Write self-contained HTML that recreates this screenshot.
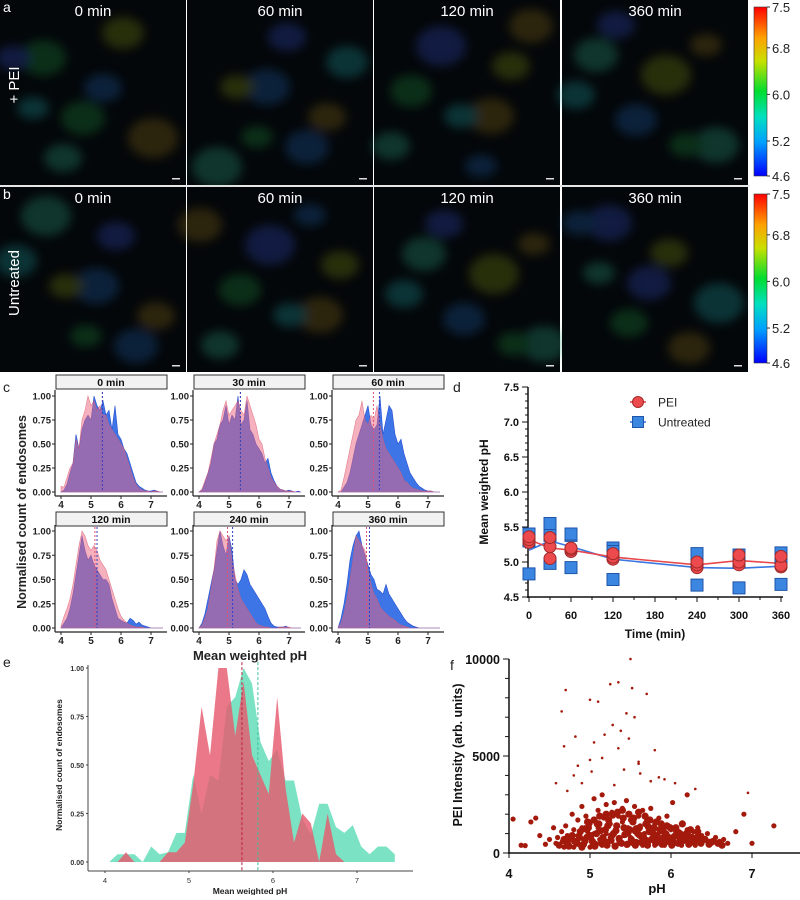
<!DOCTYPE html>
<html><head><meta charset="utf-8"><style>
html,body{margin:0;padding:0;background:#fff;}
body{width:800px;height:895px;overflow:hidden;font-family:"Liberation Sans",Arial,sans-serif;}
svg text{font-family:"Liberation Sans",Arial,sans-serif;}
</style></head><body>
<svg id="fig" width="800" height="895" viewBox="0 0 800 895" xmlns="http://www.w3.org/2000/svg">
<defs>
<filter id="blur" x="-50%" y="-50%" width="200%" height="200%"><feGaussianBlur stdDeviation="5"/></filter>
<clipPath id="clipTop"><rect x="0" y="0" width="750" height="372"/></clipPath>
<linearGradient id="cbar" x1="0" y1="1" x2="0" y2="0">
<stop offset="0" stop-color="#0000ff"/><stop offset="0.2" stop-color="#00a0ff"/><stop offset="0.35" stop-color="#00e0c0"/><stop offset="0.5" stop-color="#00dd30"/><stop offset="0.68" stop-color="#c8e000"/><stop offset="0.82" stop-color="#ffa000"/><stop offset="1" stop-color="#ff0000"/>
</linearGradient>
</defs>
<g id="micro"></g>
<g id="panelC"></g>
<g id="panelD"></g>
<g id="panelE"></g>
<g id="panelF"></g>
</svg>
<script>
// ---------- data ----------
const timeLabels = ["0 min","60 min","120 min","360 min"];
const rowLabels = ["+ PEI","Untreated"];
const cbarTicks = [7.5,6.8,6.0,5.2,4.6];

const facetTitles = ["0 min","30 min","60 min","120 min","240 min","360 min"];
const phGrid = [4.0,4.1,4.2,4.3,4.4,4.5,4.6,4.7,4.8,4.9,5.0,5.1,5.2,5.3,5.4,5.5,5.6,5.7,5.8,5.9,6.0,6.1,6.2,6.3,6.4,6.5,6.6,6.7,6.8,6.9,7.0,7.1,7.2,7.3,7.4];
const peiHist = [
 [.06,.05,.15,.25,.3,.55,.45,.75,.85,1.0,.9,.95,.85,.9,.8,.8,.7,.65,.6,.55,.5,.45,.35,.25,.15,.08,.04,.02,.01,.01,0,.01,.01,0,0],
 [0,.03,.12,.2,.35,.5,.6,.7,.85,.95,.8,.85,.9,.95,.85,.8,1.0,.9,.8,.7,.55,.5,.35,.25,.15,.1,.06,.03,.02,.01,.01,.01,0,0,0],
 [0,.02,.15,.3,.45,.6,.75,.8,.95,.75,.7,.8,.75,.9,.7,.55,.45,.4,.35,.3,.25,.2,.12,.1,.06,.04,.03,.02,.01,.01,.01,.01,0,0,0],
 [.02,.12,.2,.3,.45,.65,.85,1.0,.95,.85,.8,.85,.8,.7,.65,.6,.5,.4,.3,.2,.12,.08,.05,.03,.02,.01,.01,.01,0,0,0,0,0,0,0],
 [0,.03,.1,.2,.4,.6,.9,1.0,.95,.9,.95,.7,.55,.4,.3,.25,.2,.15,.1,.05,.03,.02,.01,.01,0,0,0,.01,.01,.01,.01,0,0,0,0],
 [0,.05,.15,.3,.5,.7,.95,.9,.85,.8,.6,.45,.35,.3,.22,.18,.15,.12,.1,.08,.05,.03,.02,.01,0,0,0,0,0,0,0,0,0,0,0]
];
const untHist = [
 [0,.02,.08,.2,.3,.6,.45,.65,.75,.8,.75,1.0,.9,.85,.95,.8,.85,.65,.9,.6,.55,.45,.4,.3,.2,.1,.06,.04,.02,.01,.01,.02,.01,0,0],
 [0,.02,.1,.2,.3,.5,.55,.7,.75,.9,.7,.8,.75,1.0,.7,.75,.95,.65,.6,.5,.45,.4,.3,.35,.2,.12,.06,.03,.02,.01,.02,.01,0,.01,0],
 [0,0,.05,.1,.2,.35,.5,.6,.7,.8,.9,.7,.65,.7,1.0,.6,.75,.9,.85,.6,.5,.55,.4,.3,.2,.15,.1,.06,.04,.02,.01,.01,0,0,0],
 [0,.05,.1,.2,.35,.55,.75,.95,.8,.7,.75,.65,.6,.55,.5,.5,.45,.3,.2,.1,.08,.06,.05,.1,.08,.04,.06,.03,.02,.01,0,0,0,0,0],
 [0,.05,.15,.3,.45,.6,.8,1.0,.85,.75,.95,.8,.5,.45,.5,.6,.55,.45,.4,.35,.3,.25,.2,.12,.05,.02,.01,.01,.01,.02,0,0,0,0,0],
 [0,.1,.25,.45,.7,.85,.95,1.0,.85,.75,.65,.55,.5,.4,.38,.35,.45,.35,.3,.25,.2,.15,.1,.06,.04,.02,.01,0,0,0,0,0,0,0,0]
];
const peiMean = [5.38,5.38,5.18,5.13,4.95,4.95];
const untMean = [5.38,5.38,5.38,5.2,5.12,5.05];

const times = [0,30,60,120,240,300,360];
const peiLine = [5.32,5.2,5.17,5.07,4.96,5.02,4.98];
const untLine = [5.17,5.3,5.22,5.04,4.92,4.91,4.94];
const peiReps = [[5.28,5.32,5.36],[5.05,5.22,5.35],[5.15,5.18,5.2],[5.04,5.07,5.12],[4.92,4.96,5.0],[4.96,5.0,5.1],[4.93,4.95,5.08]];
const untReps = [[4.83,5.3,5.4],[4.98,5.38,5.55],[4.92,5.38,5.4],[4.75,5.2,5.15],[4.67,5.0,5.12],[4.63,5.0,5.1],[4.68,5.0,5.13]];
const dYTicks = [4.5,5.0,5.5,6.0,6.5,7.0,7.5];
const dXTicks = [0,60,120,180,240,300,360];

const eGrid = [4.05,4.15,4.25,4.35,4.45,4.55,4.65,4.75,4.85,4.95,5.05,5.15,5.25,5.35,5.45,5.55,5.65,5.75,5.85,5.95,6.05,6.15,6.25,6.35,6.45,6.55,6.65,6.75,6.85,6.95,7.05,7.15,7.25,7.35,7.45];
const eTeal = [0,.04,.04,.04,0,.08,.04,.05,.15,.15,.45,.25,.45,.42,.8,.85,1.0,.92,.62,.52,.58,.42,.42,.22,.14,.3,.3,.18,.15,.19,.08,.04,.08,.08,.04];
const eRed  = [0,0,.05,0,0,0,0,.05,.05,.1,.4,.8,.55,1.0,1.0,.65,.93,.55,.45,.35,.85,.38,.1,.25,.2,0,.25,.04,0,0,0,0,0,0,0];
const eMeans = [5.63,5.82];
const eYTicks = [0,0.25,0.5,0.75,1.0];
const eXTicks = [4,5,6,7];

// sparse / outlier points
const fPH = [4.05,4.15,4.2,4.27,4.33,4.38,4.45,4.5,4.55,4.58,4.6,4.62,4.65,4.66,4.68,4.7,4.7,4.72,4.75,4.78,4.8,4.8,4.82,4.85,4.85,4.88,4.9,4.9,4.92,4.95,4.95,4.97,5.0,5.0,5.02,5.05,5.05,5.07,5.1,5.1,5.12,5.15,5.15,5.17,5.2,5.2,5.22,5.25,5.25,5.27,5.3,5.3,5.32,5.35,5.35,5.37,5.4,5.4,5.42,5.45,5.45,5.47,5.5,5.5,5.52,5.55,5.55,5.57,5.6,5.6,5.62,5.65,5.65,5.67,5.7,5.7,5.72,5.75,5.75,5.77,5.8,5.8,5.82,5.85,5.85,5.87,5.9,5.9,5.92,5.95,5.95,5.97,6.0,6.0,6.02,6.05,6.05,6.08,6.1,6.1,6.13,6.15,6.18,6.2,6.2,6.23,6.25,6.28,6.3,6.3,6.33,6.35,6.38,6.4,6.45,6.5,6.55,6.6,6.65,6.7,6.8,6.9,7.0,7.27,
 4.65,4.7,4.82,4.85,5.0,5.05,5.1,5.18,5.25,5.28,5.35,5.38,5.45,5.5,5.52,5.55,5.6,5.7,5.8,5.92,4.68,4.8,4.9,5.0,5.02,5.15,5.3,5.35,5.42,5.48,5.6,5.62,5.75,5.85,6.05,6.2,6.3,6.95,4.58,4.72];
const fI = [1750,400,380,1600,1800,900,450,700,1300,500,800,400,1100,600,300,1400,500,900,700,2000,300,1200,600,1700,900,400,2400,1300,700,600,1900,1100,300,1500,800,2800,1000,500,2200,1300,700,3000,400,1800,1000,2500,600,1500,800,2100,400,2600,1200,700,1900,500,1600,2300,900,400,2700,1300,800,1700,500,2400,1100,600,1900,900,1400,400,2200,1000,700,1700,500,2300,1200,800,400,1500,900,1800,600,1100,700,1400,400,1000,1900,600,1200,800,2600,500,1300,900,700,1100,400,1500,800,600,1200,900,500,1100,400,800,1300,600,900,700,1000,500,800,600,700,500,1100,2000,500,1400,
 7300,8400,6000,4500,4800,5700,7800,6100,8700,6600,8800,6300,7200,10000,8500,7000,4600,8200,5300,3800,5500,4000,3600,7900,4200,4900,3500,5400,4300,5900,4700,4100,3700,3900,3600,3000,3300,3100,3600,3200];
// dense core points
const fCorePH = [4.62,4.68,4.74,4.78,4.84,4.88,4.92,4.96,4.98,5.03,5.06,5.08,5.11,5.14,5.16,5.19,5.21,5.23,5.26,5.29,5.31,5.33,5.36,5.39,5.41,5.43,5.46,5.49,5.51,5.53,5.56,5.59,5.61,5.63,5.66,5.69,5.71,5.73,5.76,5.79,5.81,5.83,5.86,5.89,5.91,5.93,5.96,5.99,6.01,6.04,6.07,6.09,6.12,6.16,6.19,6.22,6.26,6.29,6.34,6.37,6.42,6.47,6.52,6.58,6.63,
 4.72,4.81,4.87,4.94,5.01,5.04,5.09,5.13,5.18,5.22,5.27,5.32,5.37,5.42,5.47,5.52,5.57,5.62,5.67,5.72,5.78,5.84,5.9,5.97,6.03,6.11,6.18,6.27,6.36,6.48,
 4.9,4.97,5.05,5.12,5.2,5.28,5.34,5.4,5.48,5.54,5.6,5.68,5.74,5.82,5.88,5.95,6.06,6.14,6.24,6.33];
const fCoreI = [400,700,350,900,500,1100,450,800,1300,600,350,1000,1500,500,800,1200,400,1700,650,1000,350,1400,750,500,1800,950,450,1200,700,1600,400,1000,1300,550,850,1500,400,1100,700,1300,500,900,1200,450,800,1000,600,1300,400,850,1100,500,900,650,1000,450,800,600,900,500,700,450,600,500,400,
 550,600,800,1250,900,450,1500,1150,600,1400,900,1150,550,1300,1050,600,1250,900,600,1350,1000,650,1150,800,550,1000,700,600,750,550,
 300,1600,1700,1900,2000,1950,2100,2200,2000,1800,2100,1900,1700,1600,1500,1400,1300,1500,1200,1100];

const NS = "http://www.w3.org/2000/svg";
function el(tag, attrs, parent, text){
  const e = document.createElementNS(NS, tag);
  for (const k in attrs) e.setAttribute(k, attrs[k]);
  if (text !== undefined) e.textContent = text;
  parent.appendChild(e);
  return e;
}

// ---------- microscopy ----------
const micro = document.getElementById("micro");
const mclip = el("g",{"clip-path":"url(#clipTop)"},micro);
const colX = [0,187,374,562];
const rowY = [0,187];
const blobColors = ["#1f8a3a","#1c5fa8","#8a6a12","#2aa07a","#304cc0","#7a8a10","#1a9a9a"];
const blobSeeds = [[30,40,18],[90,70,14],[140,120,20],[50,140,14],[160,40,12],[110,165,16],[20,90,11],[70,100,17]];
for (let r=0;r<2;r++){
  for (let c=0;c<4;c++){
    const g = el("g",{},mclip);
    
    
    el("rect",{x:colX[c],y:rowY[r],width:186,height:185,fill:"#04070a"},g);
    const bg = el("g",{filter:"url(#blur)",opacity:0.3},g);
    blobSeeds.forEach((s,i)=>{
      const cx = colX[c] + ((s[0] + c*37 + r*53) % 160) + 13;
      const cy = rowY[r] + ((s[1] + c*29 + r*41) % 150) + 18;
      el("ellipse",{cx:cx,cy:cy,rx:s[2]+5,ry:s[2],fill:blobColors[(i+c+r)%blobColors.length]},bg);
    });
    const t = el("text",{x:colX[c]+93,y:rowY[r]+16,"text-anchor":"middle","font-size":15,fill:"#fff"},g,timeLabels[c]);
    
    
    el("rect",{x:colX[c]+172,y:rowY[r]+178,width:8,height:1.5,fill:"#ddd"},g);
  }
}
for (let r=0;r<2;r++){
  const pl = el("text",{x:3,y:rowY[r]+12,"font-size":14,fill:"#fff"},micro,r===0?"a":"b");
  
  
  const rl = el("text",{x:0,y:0,"font-size":15,fill:"#fff","text-anchor":"middle",transform:`translate(19,${rowY[r]+(r===0?85:96)}) rotate(-90)`},micro,rowLabels[r]);
  
  
  const cb = el("g",{},micro);
  
  
  const y0 = rowY[r]+7, h=169;
  el("rect",{x:754,y:y0,width:13,height:h,fill:"url(#cbar)",stroke:"#333","stroke-width":0.6},cb);
  cbarTicks.forEach((v,i)=>{
    const yy = y0 + h - (v-4.6)/(7.5-4.6)*h;
    el("line",{x1:767,x2:770,y1:yy,y2:yy,stroke:"#333"},cb);
    el("text",{x:772,y:yy+5,"font-size":13,fill:"#222"},cb,v.toFixed(1));
  });
}
el("line",{x1:0,x2:750,y1:186,y2:186,stroke:"#ddd","stroke-width":1.5},micro);

// ---------- panel c ----------
const pc = document.getElementById("panelC");
const facetAx = [55,193,332];
const rowTop = [{strip:375,y1:396,y0:492},{strip:512,y1:531,y0:628}];
function pathArea(xs, ys, xf, yf, base){
  let d = `M${xf(xs[0])},${base}`;
  xs.forEach((x,i)=>{ d += ` L${xf(x)},${yf(ys[i])}`; });
  d += ` L${xf(xs[xs.length-1])},${base} Z`;
  return d;
}
for (let f=0; f<6; f++){
  const col = f%3, row = Math.floor(f/3);
  const ax = facetAx[col], R = rowTop[row];
  const xf = ph => ax + 6 + (ph-4)*30;
  const yf = v => R.y0 - v*(R.y0-R.y1);
  const g = el("g",{},pc);
  
  
  el("rect",{x:ax+1,y:R.strip,width:111,height:14,fill:"#f2f2f2",stroke:"#333","stroke-width":1},g);
  el("text",{x:ax+56,y:R.strip+11,"text-anchor":"middle","font-size":10.5,"font-weight":"bold",fill:"#111"},g,facetTitles[f]);
  const ub = el("path",{d:pathArea(phGrid,untHist[f],xf,yf,R.y0),fill:"rgba(45,105,228,0.92)",stroke:"#2a4fd0","stroke-width":0.6},g);
  
  
  const pb = el("path",{d:pathArea(phGrid,peiHist[f],xf,yf,R.y0),fill:"rgba(238,100,125,0.5)",stroke:"rgba(220,90,110,0.7)","stroke-width":0.6},g);
  
  
  el("line",{x1:xf(peiMean[f]),x2:xf(peiMean[f]),y1:R.y1-4,y2:R.y0,stroke:"#e05070","stroke-width":1,"stroke-dasharray":"2,2"},g);
  el("line",{x1:xf(untMean[f]),x2:xf(untMean[f]),y1:R.y1-4,y2:R.y0,stroke:"#3040c0","stroke-width":1,"stroke-dasharray":"2,2"},g);
  el("line",{x1:ax,x2:ax,y1:R.y1-6,y2:R.y0+4,stroke:"#222","stroke-width":1.2},g);
  el("line",{x1:ax,x2:ax+112,y1:R.y0+4,y2:R.y0+4,stroke:"#222","stroke-width":1.2},g);
  [0,0.25,0.5,0.75,1].forEach(v=>{
    el("line",{x1:ax-3,x2:ax,y1:yf(v),y2:yf(v),stroke:"#222"},g);
    el("text",{x:ax-4,y:yf(v)+3.5,"text-anchor":"end","font-size":9.5,"font-weight":"bold",fill:"#222"},g,v.toFixed(2));
  });
  [4,5,6,7].forEach(v=>{
    el("line",{x1:xf(v),x2:xf(v),y1:R.y0+4,y2:R.y0+7,stroke:"#222"},g);
    el("text",{x:xf(v),y:R.y0+16,"text-anchor":"middle","font-size":10,"font-weight":"bold",fill:"#222"},g,String(v));
  });
}
el("text",{x:3,y:392,"font-size":14,fill:"#222"},pc,"c");
const cyl = el("text",{x:0,y:0,"text-anchor":"middle","font-size":12.5,"font-weight":"bold",fill:"#222",transform:"translate(26,512) rotate(-90)"},pc,"Normalised count of endosomes");


const cxl = el("text",{x:250,y:660,"text-anchor":"middle","font-size":13,"font-weight":"bold",fill:"#222"},pc,"Mean weighted pH");



// ---------- panel d ----------
const pd = document.getElementById("panelD");
const dx = t => 529 + t*(252/360);
const dy = v => 597 - (v-4.5)*70;
el("text",{x:453,y:392,"font-size":14,fill:"#222"},pd,"d");
el("line",{x1:528,x2:528,y1:dy(7.5),y2:dy(4.5)+1,stroke:"#111","stroke-width":1.5},pd);
el("line",{x1:527,x2:783,y1:dy(4.5),y2:dy(4.5),stroke:"#111","stroke-width":1.5},pd);
for (let v=45; v<=75; v++){
  const yy = dy(v/10);
  el("line",{x1:v%5===0?522:525,x2:528,y1:yy,y2:yy,stroke:"#111","stroke-width":1},pd);
}
dYTicks.forEach(v=>{
  el("text",{x:519,y:dy(v)+4,"text-anchor":"end","font-size":11,"font-weight":"bold",fill:"#111"},pd,v.toFixed(1));
});
for (let t=0; t<=360; t+=30){
  el("line",{x1:dx(t),x2:dx(t),y1:dy(4.5),y2:dy(4.5)+(t%60===0?5:3),stroke:"#111"},pd);
}
dXTicks.forEach(t=>{
  el("text",{x:dx(t),y:619,"text-anchor":"middle","font-size":11,"font-weight":"bold",fill:"#111"},pd,String(t));
});
const dxl = el("text",{x:655,y:638,"text-anchor":"middle","font-size":12,"font-weight":"bold",fill:"#111"},pd,"Time (min)");


const dyl = el("text",{x:0,y:0,"text-anchor":"middle","font-size":12,"font-weight":"bold",fill:"#111",transform:"translate(488,492) rotate(-90)"},pd,"Mean weighted pH");


const lp = times.map((t,i)=>`${i?'L':'M'}${dx(t)},${dy(untLine[i])}`).join(' ');
const ul = el("path",{d:lp,fill:"none",stroke:"#3a78e0","stroke-width":1.6},pd);


const pp = times.map((t,i)=>`${i?'L':'M'}${dx(t)},${dy(peiLine[i])}`).join(' ');
const plx = el("path",{d:pp,fill:"none",stroke:"#e8484c","stroke-width":1.6},pd);


times.forEach((t,i)=>{
  untReps[i].forEach(v=>{
    const s = el("rect",{x:dx(t)-6,y:dy(v)-6,width:12,height:12,fill:"#3b86e0",stroke:"#1f55a8","stroke-width":1},pd);
    
    
  });
});
times.forEach((t,i)=>{
  peiReps[i].forEach(v=>{
    const c = el("circle",{cx:dx(t),cy:dy(v),r:6,fill:"#ec4a4c",stroke:"#a02a2a","stroke-width":1},pd);
    
    
  });
});
const lg = el("g",{},pd);


el("line",{x1:630,x2:646,y1:402,y2:402,stroke:"#e8484c","stroke-width":1.6},lg);
el("circle",{cx:638,cy:402,r:5.5,fill:"#ec4a4c",stroke:"#a02a2a"},lg);
el("text",{x:658,y:406.5,"font-size":12,fill:"#222"},lg,"PEI");
el("line",{x1:630,x2:646,y1:422,y2:422,stroke:"#3a78e0","stroke-width":1.6},lg);
el("rect",{x:632.5,y:416.5,width:11,height:11,fill:"#3b86e0",stroke:"#1f55a8"},lg);
el("text",{x:658,y:426.5,"font-size":12,fill:"#222"},lg,"Untreated");

// ---------- panel e ----------
const pe = document.getElementById("panelE");
const ex = ph => 105 + (ph-4)*84;
const ey = v => 862 - v*194;
el("text",{x:3,y:667,"font-size":14,fill:"#222"},pe,"e");
const ta = el("path",{d:pathArea(eGrid,eTeal,ex,ey,ey(0)),fill:"rgba(90,220,180,0.8)"},pe);


const ra = el("path",{d:pathArea(eGrid,eRed,ex,ey,ey(0)),fill:"rgba(230,90,110,0.82)"},pe);


el("line",{x1:ex(eMeans[0]),x2:ex(eMeans[0]),y1:ey(1.03),y2:871,stroke:"#c02040","stroke-width":1,"stroke-dasharray":"3,2"},pe);
el("line",{x1:ex(eMeans[1]),x2:ex(eMeans[1]),y1:ey(1.03),y2:871,stroke:"#40c0a0","stroke-width":1,"stroke-dasharray":"3,2"},pe);
el("line",{x1:88,x2:88,y1:665,y2:871,stroke:"#444","stroke-width":1},pe);
el("line",{x1:88,x2:413,y1:871,y2:871,stroke:"#444","stroke-width":1},pe);
eYTicks.forEach(v=>{
  el("line",{x1:86,x2:88,y1:ey(v),y2:ey(v),stroke:"#444"},pe);
  el("text",{x:84,y:ey(v)+3,"text-anchor":"end","font-size":7,"font-weight":"bold",fill:"#333"},pe,v.toFixed(2));
});
eXTicks.forEach(v=>{
  el("line",{x1:ex(v),x2:ex(v),y1:871,y2:873,stroke:"#444"},pe);
  el("text",{x:ex(v),y:883,"text-anchor":"middle","font-size":7.5,fill:"#333"},pe,String(v));
});
const exl = el("text",{x:250,y:894,"text-anchor":"middle","font-size":8.5,"font-weight":"bold",fill:"#222"},pe,"Mean weighted pH");


const eyl = el("text",{x:0,y:0,"text-anchor":"middle","font-size":8.5,"font-weight":"bold",fill:"#222",transform:"translate(62,765) rotate(-90)"},pe,"Normalised count of endosomes");



// ---------- panel f ----------
const pf = document.getElementById("panelF");
const fx = ph => 509 + (ph-4)*81;
const fy = v => 853 - v*0.0194;
el("text",{x:450,y:670,"font-size":14,fill:"#222"},pf,"f");
const dots = el("g",{fill:"#a31a0c"},pf);


fCorePH.forEach((p,i)=>{
  const c = el("circle",{cx:fx(p),cy:fy(fCoreI[i]),r:3.6},dots);
  
  
});
fPH.forEach((p,i)=>{
  const c = el("circle",{cx:fx(p),cy:fy(fI[i]),r:fI[i]>3000?1.3:2.6},dots);
  
  
});
el("line",{x1:509,x2:509,y1:659,y2:854,stroke:"#111","stroke-width":1.5},pf);
el("line",{x1:508,x2:800,y1:853,y2:853,stroke:"#111","stroke-width":1.5},pf);
for (let v=0; v<=10000; v+=1000){
  el("line",{x1:v%5000===0?503:505,x2:509,y1:fy(v),y2:fy(v),stroke:"#111"},pf);
}
[0,5000,10000].forEach(v=>{
  el("text",{x:500,y:fy(v)+5,"text-anchor":"end","font-size":12.5,"font-weight":"bold",fill:"#111"},pf,String(v));
});
[4,5,6,7].forEach(v=>{
  el("line",{x1:fx(v),x2:fx(v),y1:853,y2:858,stroke:"#111"},pf);
  el("text",{x:fx(v),y:878,"text-anchor":"middle","font-size":12.5,"font-weight":"bold",fill:"#111"},pf,String(v));
});
const fxl = el("text",{x:657,y:893,"text-anchor":"middle","font-size":13,"font-weight":"bold",fill:"#111"},pf,"pH");


const fyl = el("text",{x:0,y:0,"text-anchor":"middle","font-size":12.5,"font-weight":"bold",fill:"#111",transform:"translate(462,755) rotate(-90)"},pf,"PEI Intensity (arb. units)");


</script>
</body></html>
